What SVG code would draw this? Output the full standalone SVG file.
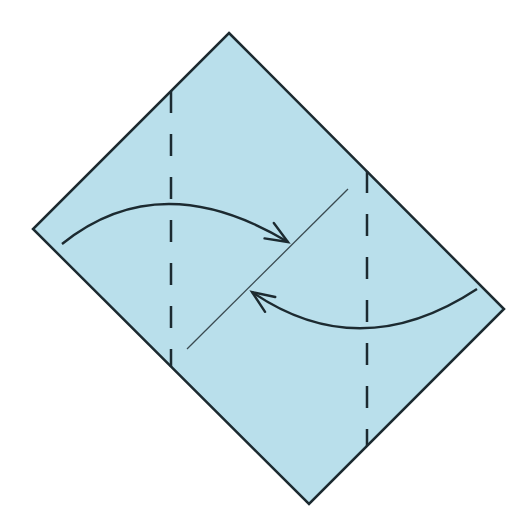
<svg xmlns="http://www.w3.org/2000/svg" width="527" height="524" viewBox="0 0 527 524">
<style>
.paper{fill:#b9dfeb;stroke:#1c2a30;stroke-width:2.5;stroke-linejoin:miter}
.valley{stroke:#1c2a30;stroke-width:2.5;stroke-dasharray:22 21;fill:none}
.center{stroke:#3a4a50;stroke-width:1.3;fill:none}
.arrow{stroke:#1c2a30;stroke-width:2.4;fill:none;marker-end:url(#open)}
</style>
<defs>
<marker id="open" markerUnits="userSpaceOnUse" viewBox="-26 -12 30 24" markerWidth="30" markerHeight="24" refX="0" refY="0" orient="auto">
<path d="M-22,-9 L0,0 L-22,9" fill="none" stroke="#1c2a30" stroke-width="2.4" stroke-linecap="round" stroke-linejoin="miter"/>
</marker>
</defs>
<rect width="527" height="524" fill="#ffffff"/>
<g id="paper">
<polygon class="paper" points="229,33 504,309 309,504 33,229"/>
</g>
<g id="folds">
<line class="valley" x1="171" y1="91" x2="171" y2="367"/>
<line class="valley" x1="367" y1="171" x2="367" y2="446"/>
<line class="center" x1="187" y1="349" x2="348" y2="189"/>
</g>
<g id="connectors">
<path class="arrow" d="M62,244 Q160,165 288,242"/>
<path class="arrow" d="M477,289 Q360,366 252,292"/>
</g>
</svg>
